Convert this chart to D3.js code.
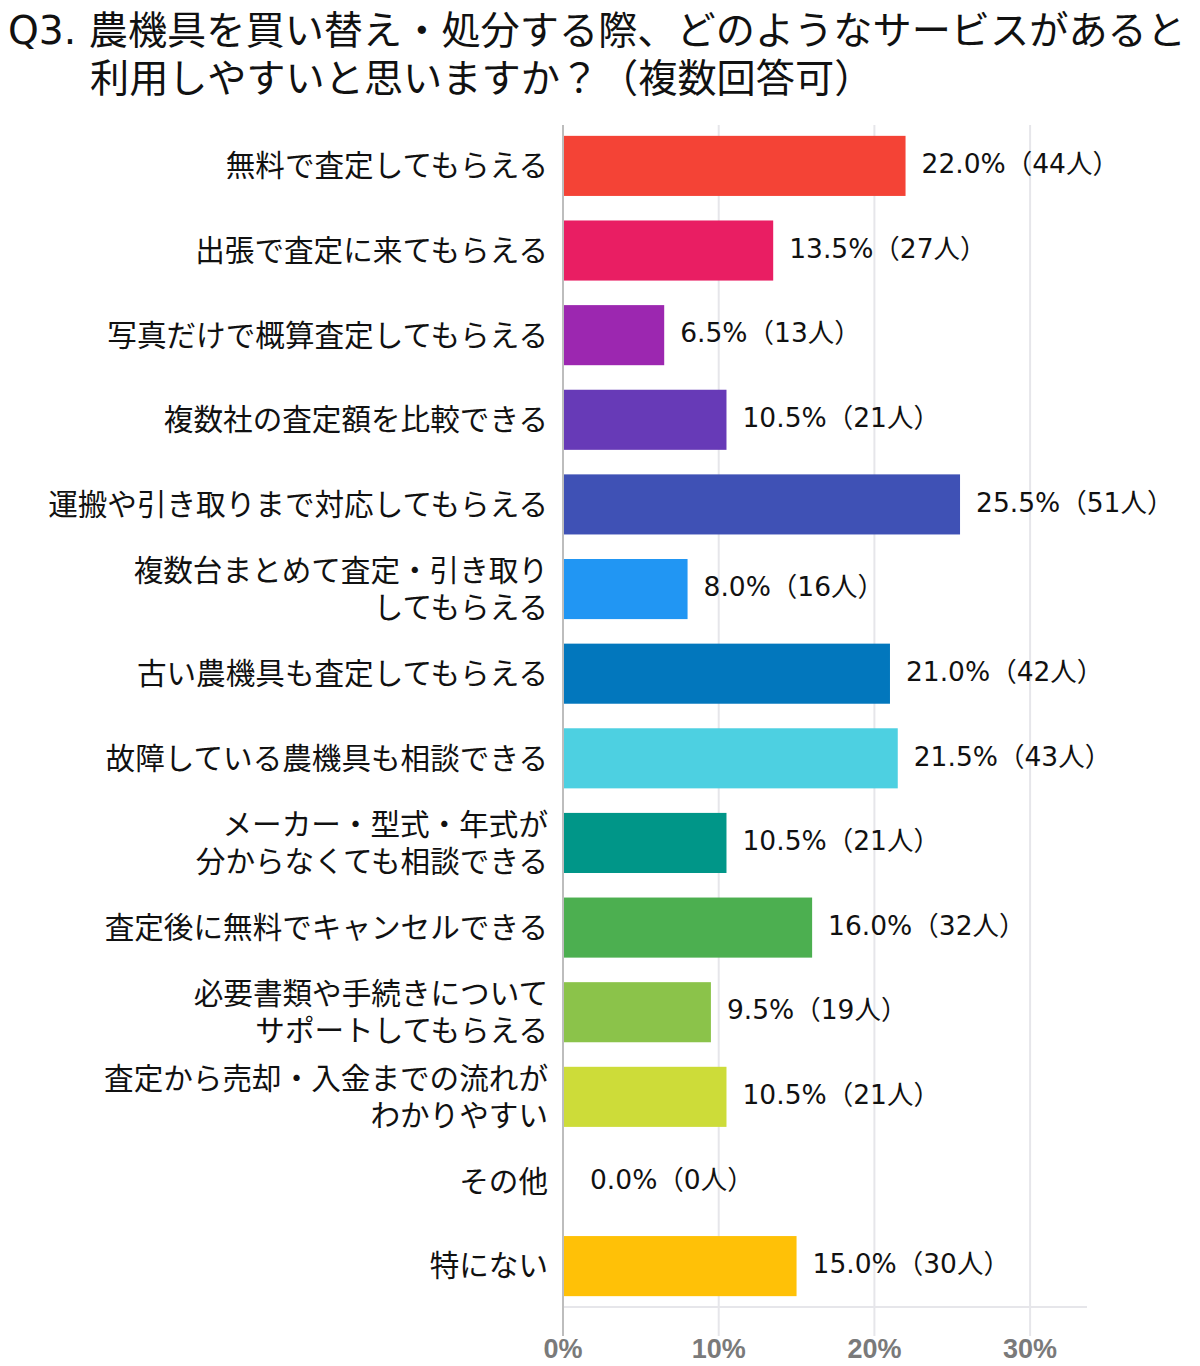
<!DOCTYPE html>
<html>
<head>
<meta charset="utf-8">
<script src="https://cdn.jsdelivr.net/npm/d3@7"></script>
<style>
  body { margin: 0; background: #fff; }
  svg { display: block; font-family: "Noto Sans CJK JP", sans-serif; }
</style>
</head>
<body>
<div id="chart"></div>
<script>
// chart data
const titleLines = [
  "Q3. 農機具を買い替え・処分する際、どのようなサービスがあると",
  "利用しやすいと思いますか？（複数回答可）"
];
const categories = [
  ["無料で査定してもらえる"],
  ["出張で査定に来てもらえる"],
  ["写真だけで概算査定してもらえる"],
  ["複数社の査定額を比較できる"],
  ["運搬や引き取りまで対応してもらえる"],
  ["複数台まとめて査定・引き取り", "してもらえる"],
  ["古い農機具も査定してもらえる"],
  ["故障している農機具も相談できる"],
  ["メーカー・型式・年式が", "分からなくても相談できる"],
  ["査定後に無料でキャンセルできる"],
  ["必要書類や手続きについて", "サポートしてもらえる"],
  ["査定から売却・入金までの流れが", "わかりやすい"],
  ["その他"],
  ["特にない"]
];
const percents = [22.0, 13.5, 6.5, 10.5, 25.5, 8.0, 21.0, 21.5, 10.5, 16.0, 9.5, 10.5, 0.0, 15.0];
const counts = [44, 27, 13, 21, 51, 16, 42, 43, 21, 32, 19, 21, 0, 30];
const colors = ["#F44336", "#E91E63", "#9C27B0", "#673AB7", "#3F51B5", "#2196F3", "#0277BD",
  "#4DD0E1", "#009688", "#4CAF50", "#8BC34A", "#CDDC39", "#9E9E9E", "#FFC107"];
const ticks = [0, 10, 20, 30];

// layout
const w = 1200, h = 1366;
const x0 = 563;
const latinFont = "'DejaVu Sans', 'Noto Sans CJK JP', sans-serif";

const svg = d3.select("#chart").append("svg")
  .attr("width", w)
  .attr("height", h);

const xScale = d3.scaleLinear()
  .domain([0, 10])
  .range([x0, x0 + 155.7]);

const yScale = d3.scaleBand()
  .domain(d3.range(categories.length))
  .range([124, 1308])
  .paddingInner(0.29)
  .paddingOuter(0.14);

// title
svg.append("g").selectAll("text")
  .data(titleLines)
  .join("text")
  .attr("x", (d, i) => i === 0 ? 8 : 90)
  .attr("y", (d, i) => 44 + i * 48)
  .attr("font-size", 39.2)
  .attr("font-family", latinFont)
  .attr("fill", "#111")
  .text(d => d);

// gridlines
svg.append("g").selectAll("line")
  .data(ticks.slice(1))
  .join("line")
  .attr("x1", d => xScale(d))
  .attr("x2", d => xScale(d))
  .attr("y1", 125)
  .attr("y2", 1336)
  .attr("stroke", "#e6e6ea")
  .attr("stroke-width", 2);

// bottom axis line
svg.append("line")
  .attr("x1", x0)
  .attr("x2", 1087)
  .attr("y1", 1307)
  .attr("y2", 1307)
  .attr("stroke", "#e6e6ea")
  .attr("stroke-width", 2);

// bars
svg.append("g").selectAll("rect")
  .data(percents)
  .join("rect")
  .attr("x", x0)
  .attr("y", (d, i) => yScale(i))
  .attr("width", d => xScale(d) - x0)
  .attr("height", yScale.bandwidth())
  .attr("fill", (d, i) => colors[i]);

// zero line
svg.append("line")
  .attr("x1", x0)
  .attr("x2", x0)
  .attr("y1", 125)
  .attr("y2", 1336)
  .attr("stroke", "#bdbdbd")
  .attr("stroke-width", 2);

// category labels
const labels = svg.append("g").selectAll("text")
  .data(categories)
  .join("text")
  .attr("text-anchor", "end")
  .attr("font-size", 29.6)
  .attr("fill", "#111");

labels.selectAll("tspan")
  .data((d, i) => d.map((t, j) => ({ t, j, n: d.length, i })))
  .join("tspan")
  .attr("x", 548)
  .attr("y", d => yScale(d.i) + yScale.bandwidth() / 2 + (d.j - (d.n - 1) / 2) * 37)
  .attr("dy", "0.35em")
  .text(d => d.t);

// value labels
svg.append("g").selectAll("text")
  .data(percents)
  .join("text")
  .attr("x", d => xScale(d) + (d === 0 ? 27 : 16))
  .attr("y", (d, i) => yScale(i) + yScale.bandwidth() / 2 - 2)
  .attr("dy", "0.35em")
  .attr("font-size", 26.5)
  .attr("font-family", latinFont)
  .attr("fill", "#111")
  .text((d, i) => `${d.toFixed(1)}%（${counts[i]}人）`);

// tick labels
svg.append("g").selectAll("text")
  .data(ticks)
  .join("text")
  .attr("x", d => xScale(d))
  .attr("y", 1358)
  .attr("text-anchor", "middle")
  .attr("font-size", 27)
  .attr("font-weight", "bold")
  .attr("font-family", "'Liberation Sans', Arial, sans-serif")
  .attr("fill", "#7a7a7a")
  .text(d => d + "%");
</script>
</body>
</html>
